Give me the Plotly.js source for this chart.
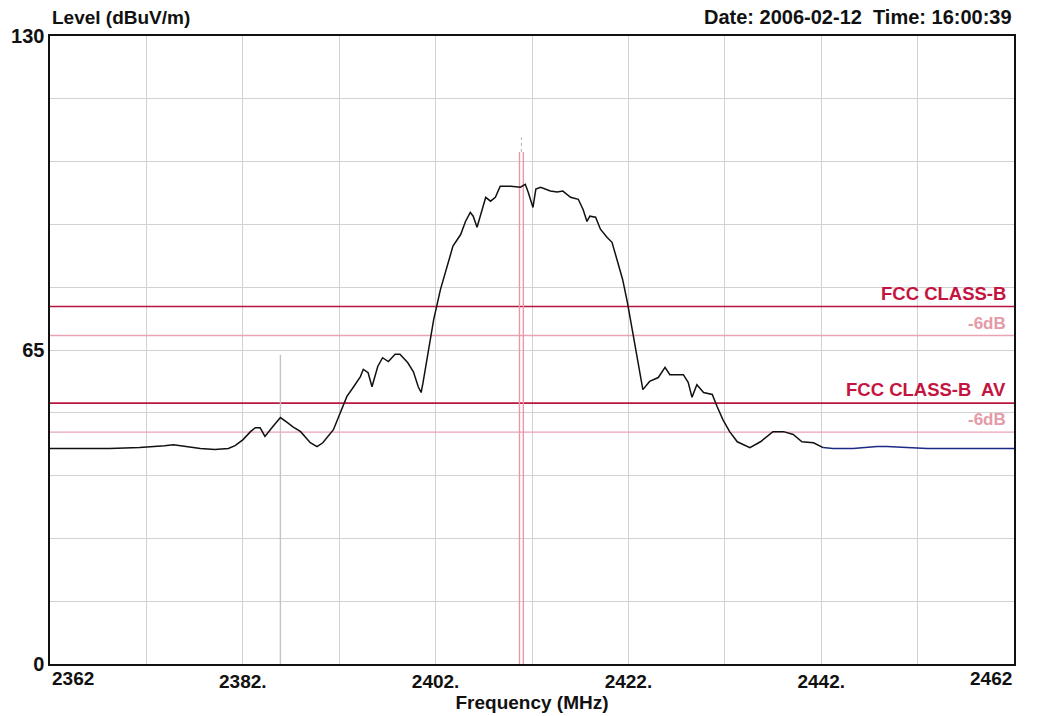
<!DOCTYPE html>
<html>
<head>
<meta charset="utf-8">
<script src="https://cdn.plot.ly/plotly-3.0.1.min.js"></script>
<style>
html,body{margin:0;padding:0;background:#fff;}
#chart{width:1037px;height:716px;}
</style>
</head>
<body>
<div id="chart"></div>
<script>
// ---- data ----
const freq = [2362.0,2365.1,2368.2,2371.3,2372.9,2373.9,2374.8,2375.5,2376.5,2377.6,2379.1,2380.5,2381.2,2382.0,2382.8,2383.3,2383.8,2384.3,2385.1,2385.9,2386.6,2387.2,2388.0,2389.0,2389.7,2390.3,2391.4,2392.1,2392.8,2393.5,2394.2,2394.5,2395.0,2395.4,2396.0,2396.5,2397.1,2397.8,2398.3,2399.1,2399.7,2400.2,2400.5,2400.7,2401.3,2401.8,2402.5,2403.2,2403.8,2404.6,2405.1,2405.6,2405.9,2406.3,2406.7,2407.2,2407.7,2408.2,2408.7,2409.8,2410.8,2411.3,2411.6,2412.1,2412.4,2412.9,2413.9,2414.6,2415.2,2416.0,2416.8,2417.3,2417.7,2418.0,2418.6,2419.1,2419.8,2420.3,2420.9,2421.4,2421.9,2422.4,2422.9,2423.2,2423.5,2424.2,2425.1,2425.8,2426.3,2427.7,2428.2,2428.6,2429.1,2429.8,2430.7,2431.2,2431.8,2432.5,2433.3,2434.6,2435.7,2437.0,2438.1,2439.1,2440.0,2441.2,2442.2,2443.2,2445.3,2447.8,2448.8,2450.9,2453.0,2455.7,2462.0];
const level = [44.6,44.6,44.6,44.8,45.0,45.2,45.4,45.2,44.8,44.6,44.4,44.6,45.2,46.4,48.1,48.9,48.9,47.1,49.1,51.0,50.0,49.1,48.1,45.8,45.0,45.8,48.5,52.0,55.4,57.4,59.5,61.0,60.3,57.4,61.6,63.4,62.6,64.1,64.1,62.4,60.5,57.4,56.2,58.3,65.7,71.3,77.5,82.3,86.5,88.9,91.6,93.5,92.7,90.4,93.1,96.6,95.8,96.6,98.9,98.9,98.7,99.3,97.7,94.5,98.3,98.7,97.9,97.7,97.9,96.6,96.2,94.1,91.6,92.7,92.5,90.0,88.3,87.3,83.1,79.6,74.8,69.2,63.7,60.3,56.8,58.5,59.3,61.4,59.9,59.9,58.3,55.2,57.8,56.2,55.8,53.3,50.6,48.1,46.0,44.8,46.0,48.1,48.1,47.5,46.0,45.8,44.8,44.6,44.6,45.0,45.0,44.8,44.6,44.6,44.6];
const blueFrom = 2442.2;               // trace colour changes to blue from here
const limitNames = ["FCC CLASS-B", "-6dB", "FCC CLASS-B  AV", "-6dB"];
const limitLevels = [74, 68, 54, 48];
const markerFreqs = [2385.9, 2410.7, 2411.1];
const markerTops = [64, 106, 106];
const xTickVals = [2362,2372,2382,2392,2402,2412,2422,2432,2442,2452,2462];
const xTickText = ["","","2382.","","2402.","","2422.","","2442.","",""];
const yTickVals = [0,13,26,39,52,65,78,91,104,117,130];
const yTickText = ["0","","","","","65","","","","","130"];
const xRange = [2362, 2462];
const yRange = [0, 130];

// ---- styling ----
const FONT = "Liberation Sans, Arial, Helvetica, sans-serif";
const crimson = "#c4143f";
const pink = "#e9a3b3";

const traces = [];
// limit lines
limitLevels.forEach((v, i) => {
  const main = (i % 2 === 0);
  traces.push({
    x: xRange, y: [v, v], mode: "lines", hoverinfo: "skip", showlegend: false,
    line: {color: main ? "#b8163f" : pink, width: main ? 1.6 : 1.4}
  });
});
// marker lines
markerFreqs.forEach((f, i) => {
  traces.push({
    x: [f, f], y: [0, markerTops[i]], mode: "lines", hoverinfo: "skip", showlegend: false,
    line: {color: i === 0 ? "#c4c4c4" : "#ec98a9", width: 1.4}
  });
});
traces.push({
  x: [markerFreqs[1] + 0.2, markerFreqs[1] + 0.2], y: [markerTops[1], markerTops[1] + 3],
  mode: "lines", hoverinfo: "skip", showlegend: false,
  line: {color: "#b0b0b0", width: 1, dash: "dot"}
});
// measured trace
const blackX = [], blackY = [], blueX = [], blueY = [];
freq.forEach((f, i) => {
  if (f <= blueFrom) { blackX.push(f); blackY.push(level[i]); }
  if (f >= blueFrom) { blueX.push(f); blueY.push(level[i]); }
});
traces.push({x: blackX, y: blackY, mode: "lines", showlegend: false,
  line: {color: "#111111", width: 1.5}});
traces.push({x: blueX, y: blueY, mode: "lines", showlegend: false,
  line: {color: "#1c2a86", width: 1.5}});

const annotations = [
  {text: "Level (dBuV/m)", xref: "paper", yref: "paper", x: 0, y: 1, xanchor: "left", yanchor: "middle",
   yshift: 19, showarrow: false, font: {family: FONT, size: 19, color: "#111", weight: "bold"}},
  {text: "Date: 2006-02-12  Time: 16:00:39", xref: "paper", yref: "paper", x: 1, y: 1, xanchor: "right",
   yanchor: "middle", yshift: 19, showarrow: false, font: {family: FONT, size: 20, color: "#111", weight: "bold"}},
  {text: "2362", xref: "x", yref: "paper", x: xRange[0], y: 0, xanchor: "left", yanchor: "top", yshift: -2,
   showarrow: false, font: {family: FONT, size: 19, color: "#111", weight: "bold"}},
  {text: "2462", xref: "x", yref: "paper", x: xRange[1], y: 0, xanchor: "right", yanchor: "top", yshift: -2,
   showarrow: false, font: {family: FONT, size: 19, color: "#111", weight: "bold"}}
];
limitLevels.forEach((v, i) => {
  const main = (i % 2 === 0);
  annotations.push({
    text: limitNames[i], xref: "paper", yref: "y", x: 1, y: v, xanchor: "right", yanchor: "bottom",
    xshift: -6, yshift: 1, showarrow: false,
    font: {family: FONT, size: main ? 18.5 : 17, color: main ? crimson : "#e49aa8", weight: "bold"}
  });
});

const layout = {
  width: 1037, height: 716,
  margin: {l: 50, r: 23, t: 36, b: 52},
  paper_bgcolor: "#ffffff", plot_bgcolor: "#ffffff",
  showlegend: false,
  xaxis: {
    range: xRange, tickmode: "array", tickvals: xTickVals, ticktext: xTickText,
    showgrid: true, gridcolor: "#d2d2d2", gridwidth: 1, zeroline: false,
    showline: true, linecolor: "#111", linewidth: 1.6, mirror: true, ticks: "",
    tickfont: {family: FONT, size: 19, color: "#111", weight: "bold"},
    title: {text: "Frequency (MHz)", standoff: 4, font: {family: FONT, size: 19, color: "#111", weight: "bold"}}
  },
  yaxis: {
    range: yRange, tickmode: "array", tickvals: yTickVals, ticktext: yTickText,
    showgrid: true, gridcolor: "#d2d2d2", gridwidth: 1, zeroline: false,
    showline: true, linecolor: "#111", linewidth: 1.6, mirror: true, ticks: "",
    tickfont: {family: FONT, size: 20, color: "#111", weight: "bold"}
  },
  annotations: annotations
};

Plotly.newPlot("chart", traces, layout, {staticPlot: true, displayModeBar: false});
</script>
</body>
</html>
